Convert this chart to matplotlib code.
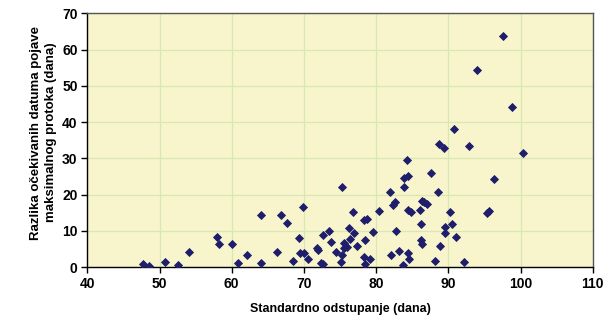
import matplotlib.pyplot as plt

plt.rcParams['font.family'] = ['Liberation Sans', 'DejaVu Sans']

# standard deviation (days) vs. difference of expected peak-flow dates (days)
std_dev = [47.7, 48.5, 50.8, 52.6, 54.1, 57.9, 58.2, 60.1, 60.8, 62.1,
           64.0, 64.1, 66.3, 66.8, 67.6, 68.5, 69.3, 69.4, 69.9, 70.0,
           70.6, 71.8, 72.0, 72.3, 72.6, 72.7, 73.5, 73.7, 74.4, 75.2,
           75.3, 75.3, 75.5, 75.6, 75.9, 76.3, 76.4, 76.8, 76.9, 77.4,
           78.3, 78.7, 78.5, 78.3, 78.4, 79.2, 79.6, 80.4, 81.9, 82.0,
           82.3, 82.6, 82.7, 83.1, 83.7, 83.9, 83.9, 84.4, 84.3, 84.4,
           84.8, 84.4, 84.6, 86.1, 86.3, 86.6, 87.1, 86.2, 86.2, 86.3,
           87.6, 88.6, 88.1, 88.75, 89.4, 88.8, 89.5, 89.6, 90.2, 90.5,
           91.0, 90.75, 92.2, 92.8, 93.9, 95.3, 95.6, 96.3, 97.6, 98.8,
           100.4]
date_diff = [0.8, 0.3, 1.5, 0.5, 4.3, 8.4, 6.5, 6.5, 1.1, 3.4,
             1.1, 14.5, 4.3, 14.5, 12.3, 1.6, 8.2, 3.8, 16.7, 4.0,
             2.2, 5.2, 4.8, 1.3, 0.9, 8.8, 10.0, 7.1, 4.3, 1.5,
             3.4, 22.0, 5.2, 6.6, 5.7, 10.7, 7.7, 15.2, 9.4, 5.9,
             12.9, 13.3, 7.5, 2.8, 0.9, 2.2, 9.8, 15.5, 20.8, 3.4,
             17.1, 17.9, 10.0, 4.4, 0.5, 22.1, 24.7, 25.2, 29.7, 15.8,
             15.2, 3.8, 2.2, 15.7, 18.3, 18.1, 17.3, 12.0, 7.6, 6.3,
             25.9, 20.8, 1.8, 33.9, 32.9, 5.9, 11.0, 9.5, 15.1, 12.0,
             8.4, 38.0, 1.5, 33.5, 54.5, 14.9, 15.5, 24.2, 63.7, 44.1,
             31.4]

x_ticks = [40, 50, 60, 70, 80, 90, 100, 110]
y_ticks = [0, 10, 20, 30, 40, 50, 60, 70]

fig = plt.figure(figsize=(6.08, 3.22), dpi=100)
ax = fig.add_axes([0.1436, 0.170, 0.8314, 0.7887])
ax.set_facecolor('#F8F5CC')

ax.plot(std_dev, date_diff, linestyle='none', marker='D', markersize=4.2,
        color='#1E1E6B', markeredgecolor='#1E1E6B', markeredgewidth=0.6,
        zorder=3)

ax.set_xlim(40, 110)
ax.set_ylim(0, 70)
ax.set_xticks(x_ticks)
ax.set_yticks(y_ticks)
ax.grid(True, color='#D9E8B2', linewidth=0.9)
ax.set_axisbelow(True)

for side in ['left', 'bottom']:
    ax.spines[side].set_color('black')
    ax.spines[side].set_linewidth(1.0)
for side in ['top', 'right']:
    ax.spines[side].set_color('#555555')
    ax.spines[side].set_linewidth(1.0)

ax.tick_params(direction='out', length=4, width=1, labelsize=10, pad=3)
for lbl in ax.get_xticklabels() + ax.get_yticklabels():
    lbl.set_fontweight('bold')

ax.set_xlabel('Standardno odstupanje (dana)', fontsize=9, fontweight='bold', labelpad=9)
ax.set_ylabel('Razlika očekivanih datuma pojave\nmaksimalnog protoka (dana)',
              fontsize=9.5, fontweight='bold', linespacing=1.3)
ax.yaxis.set_label_coords(-0.06, 0.53)

fig.savefig('out.png', dpi=100)
